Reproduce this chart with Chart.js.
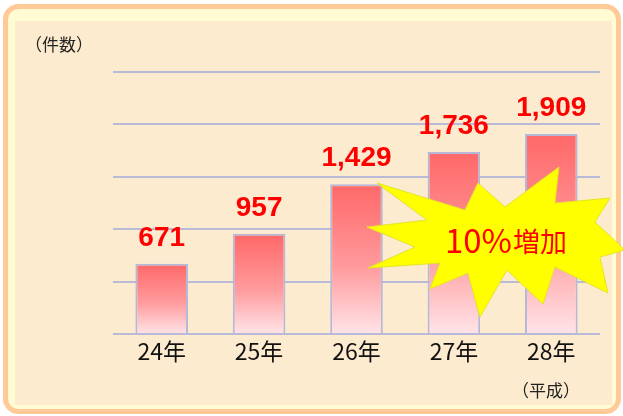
<!DOCTYPE html>
<html>
<head>
<meta charset="utf-8">
<script src="https://cdn.jsdelivr.net/npm/chart.js@4/dist/chart.umd.min.js"></script>
<style>
  html, body { margin: 0; padding: 0; background: #fff; }
  #wrap { width: 623px; height: 416px; }
</style>
</head>
<body>
<div id="wrap"><canvas id="chart" width="623" height="416"></canvas></div>
<script>
// data
const years = ['24年', '25年', '26年', '27年', '28年'];
const counts = [671, 957, 1429, 1736, 1909];
const yMin = 0;
const yMax = 2500;
const yStep = 500;
const unitLabel = '（件数）';
const eraLabel = '（平成）';
const burstNum = '10%';
const burstWord = '増加';

// starburst outline, offsets from its centre (px)
const burstPoints = [
  [-123, -15], [-63, -22], [-113, -59], [-25, -32], [-12, -59], [15, -35],
  [69, -75], [65, -39], [120, -44], [105, -20], [135, 8], [110, 15],
  [118, 51], [65, 25], [53, 62], [17, 28], [-10, 75], [-22, 31],
  [-60, 47], [-50, 21], [-122, 26], [-75, 5]
];

const fmt = n => n.toLocaleString('en-US');

// panel behind the chart
const panel = {
  id: 'panel',
  beforeDraw(chart) {
    const ctx = chart.ctx;
    ctx.save();
    ctx.fillStyle = '#ffffff';
    ctx.fillRect(0, 0, chart.width, chart.height);
    ctx.beginPath();
    ctx.roundRect(5.5, 6.5, 613, 405, 13);
    ctx.fillStyle = 'rgb(255, 251, 210)';
    ctx.fill();
    ctx.lineWidth = 5;
    ctx.strokeStyle = 'rgb(255, 201, 152)';
    ctx.stroke();
    ctx.fillStyle = 'rgb(253, 235, 207)';
    ctx.fillRect(15, 21, 597, 384);

    ctx.fillStyle = '#222';
    ctx.font = '17px "Noto Sans CJK JP"';
    ctx.textBaseline = 'middle';
    ctx.textAlign = 'left';
    ctx.fillText(unitLabel, 25, 45);
    ctx.fillText(eraLabel, 512, 391);
    ctx.restore();
  }
};

// value labels and the callout
const overlay = {
  id: 'overlay',
  afterDatasetsDraw(chart) {
    const ctx = chart.ctx;
    const meta = chart.getDatasetMeta(0);
    ctx.save();
    ctx.fillStyle = '#ff0000';
    ctx.font = 'bold 28px "Liberation Sans", Arial, sans-serif';
    ctx.textAlign = 'center';
    ctx.textBaseline = 'alphabetic';
    meta.data.forEach((bar, i) => {
      ctx.fillText(fmt(counts[i]), bar.x, bar.y - 18);
    });

    const area = chart.chartArea;
    const cx = area.left + (area.right - area.left) * 0.774;
    const cy = area.top + (area.bottom - area.top) * 0.649;
    ctx.beginPath();
    burstPoints.forEach(([dx, dy], i) => {
      if (i === 0) ctx.moveTo(cx + dx, cy + dy);
      else ctx.lineTo(cx + dx, cy + dy);
    });
    ctx.closePath();
    ctx.fillStyle = '#ffff00';
    ctx.fill();
    ctx.lineWidth = 1;
    ctx.strokeStyle = 'rgb(228, 228, 40)';
    ctx.stroke();

    // "10%" is set larger than "増加", as in the original
    ctx.fillStyle = '#ff0000';
    ctx.textAlign = 'left';
    ctx.textBaseline = 'alphabetic';
    ctx.font = '33px "Noto Sans CJK JP"';
    const x0 = cx - 45;
    ctx.fillText(burstNum, x0, cy + 11);
    const w = ctx.measureText(burstNum).width;
    ctx.font = '27px "Noto Sans CJK JP"';
    ctx.fillText(burstWord, x0 + w + 1, cy + 10);
    ctx.restore();
  }
};

function barGradient(context) {
  const chart = context.chart;
  if (!chart.chartArea) return 'rgb(255, 120, 120)';
  const y = chart.scales.y;
  const top = y.getPixelForValue(counts[context.dataIndex]);
  const bottom = y.getPixelForValue(0);
  const g = chart.ctx.createLinearGradient(0, top, 0, bottom);
  g.addColorStop(0, 'rgb(255, 104, 104)');
  g.addColorStop(0.55, 'rgb(255, 154, 156)');
  g.addColorStop(1, 'rgb(255, 228, 232)');
  return g;
}

new Chart(document.getElementById('chart'), {
  type: 'bar',
  data: {
    labels: years,
    datasets: [{
      label: '件数',
      data: counts,
      backgroundColor: barGradient,
      borderColor: 'rgb(182, 184, 216)',
      borderWidth: 2,
      barPercentage: 0.54,
      categoryPercentage: 1,
    }]
  },
  options: {
    responsive: false,
    devicePixelRatio: 1,
    animation: false,
    layout: { padding: { left: 113, right: 23, top: 72, bottom: 0 } },
    plugins: {
      legend: { display: false },
      tooltip: { enabled: false },
    },
    scales: {
      x: {
        grid: { display: false },
        border: { display: false },
        ticks: {
          color: '#111',
          padding: -5,
          font: { family: '"Noto Sans CJK JP"', size: 23 },
        },
        afterFit: s => { s.height = 82; },
      },
      y: {
        min: yMin,
        max: yMax,
        ticks: { display: false, stepSize: yStep },
        grid: { color: 'rgb(184, 186, 216)', lineWidth: 2, drawTicks: false },
        border: { display: false },
        afterFit: s => { s.width = 0; },
      }
    }
  },
  plugins: [panel, overlay]
});
</script>
</body>
</html>
